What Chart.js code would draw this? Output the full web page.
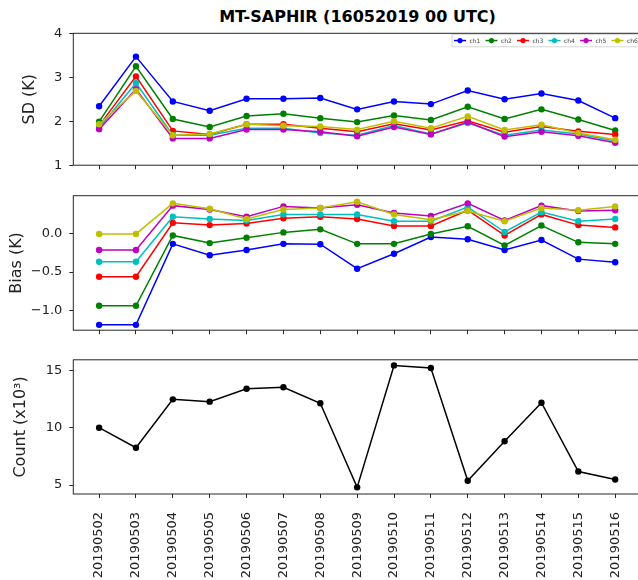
<!DOCTYPE html>
<html>
<head>
<meta charset="utf-8">
<script src="https://cdn.jsdelivr.net/npm/chart.js@4.4.1/dist/chart.umd.min.js"></script>
<style>
  html, body { margin: 0; padding: 0; background: #fff; }
  #wrap { position: relative; width: 638px; height: 580px; overflow: hidden; }
  canvas { position: absolute; left: 0; }
  #title { position: absolute; left: 73px; width: 569px; top: 7px; text-align: center;
           font: bold 16px 'DejaVu Sans'; line-height: 20px; color: #000; }
</style>
</head>
<body>
<div id="wrap">
  <div id="title">MT-SAPHIR (16052019 00 UTC)</div>
  <canvas id="sd" width="645" height="180" style="top:0"></canvas>
  <canvas id="bias" width="645" height="165" style="top:180px"></canvas>
  <canvas id="cnt" width="645" height="235" style="top:345px"></canvas>
</div>
<script>
// dates on the x axis
const dates = ['20190502', '20190503', '20190504', '20190505', '20190506', '20190507', '20190508',
  '20190509', '20190510', '20190511', '20190512', '20190513', '20190514', '20190515', '20190516'];
const channels = ['ch1', 'ch2', 'ch3', 'ch4', 'ch5', 'ch6'];
const colors = ['#0000ff', '#008000', '#ff0000', '#00bfbf', '#bf00bf', '#bfbf00'];

// standard deviation (K)
const sdCh1 = [2.34, 3.47, 2.45, 2.24, 2.51, 2.51, 2.53, 2.27, 2.45, 2.39, 2.70, 2.50, 2.63, 2.47, 2.07];
const sdCh2 = [1.99, 3.25, 2.05, 1.87, 2.12, 2.17, 2.07, 1.98, 2.13, 2.03, 2.33, 2.05, 2.27, 2.04, 1.79];
const sdCh3 = [1.90, 3.02, 1.78, 1.70, 1.93, 1.93, 1.84, 1.76, 1.94, 1.80, 2.01, 1.75, 1.88, 1.77, 1.70];
const sdCh4 = [1.85, 2.87, 1.68, 1.68, 1.84, 1.84, 1.73, 1.68, 1.90, 1.71, 1.96, 1.68, 1.80, 1.71, 1.55];
const sdCh5 = [1.82, 2.73, 1.61, 1.61, 1.81, 1.81, 1.76, 1.66, 1.87, 1.70, 1.98, 1.65, 1.76, 1.67, 1.51];
const sdCh6 = [1.93, 2.69, 1.68, 1.71, 1.93, 1.90, 1.88, 1.81, 2.00, 1.84, 2.11, 1.80, 1.92, 1.73, 1.58];

// bias (K)
const biasCh1 = [-1.19, -1.19, -0.13, -0.28, -0.21, -0.13, -0.135, -0.455, -0.26, -0.04, -0.07, -0.21, -0.08, -0.33, -0.37];
const biasCh2 = [-0.94, -0.94, -0.02, -0.12, -0.05, 0.02, 0.06, -0.13, -0.13, 0.00, 0.10, -0.15, 0.11, -0.11, -0.13];
const biasCh3 = [-0.56, -0.56, 0.145, 0.115, 0.135, 0.205, 0.225, 0.195, 0.105, 0.105, 0.31, -0.02, 0.255, 0.115, 0.085];
const biasCh4 = [-0.365, -0.365, 0.225, 0.195, 0.175, 0.255, 0.255, 0.255, 0.165, 0.165, 0.35, 0.025, 0.285, 0.165, 0.195];
const biasCh5 = [-0.21, -0.21, 0.37, 0.32, 0.225, 0.36, 0.34, 0.38, 0.275, 0.235, 0.40, 0.175, 0.37, 0.30, 0.31];
const biasCh6 = [0.00, 0.00, 0.40, 0.33, 0.195, 0.32, 0.34, 0.42, 0.255, 0.185, 0.30, 0.165, 0.34, 0.31, 0.36];

// observation count (x10^3)
const counts = [10.0, 8.25, 12.47, 12.27, 13.39, 13.53, 12.13, 4.80, 15.43, 15.2, 5.37, 8.82, 12.18, 6.18, 5.49];

const sdTicks = [1, 2, 3, 4];
const biasTicks = [-1.0, -0.5, 0.0];
const countTicks = [5, 10, 15];

const sdSeries = [sdCh1, sdCh2, sdCh3, sdCh4, sdCh5, sdCh6];
const biasSeries = [biasCh1, biasCh2, biasCh3, biasCh4, biasCh5, biasCh6];

const AXIS = '#262626';
const FONT = 'DejaVu Sans';
const xy = (vals) => vals.map((v, i) => ({ x: i, y: v }));

// matplotlib-like closed frame round the plot area
const frame = {
  id: 'frame',
  afterDraw(c) {
    const { ctx, chartArea: a } = c;
    ctx.save();
    ctx.strokeStyle = AXIS;
    ctx.lineWidth = 1;
    ctx.strokeRect(a.left, a.top, a.right - a.left, a.bottom - a.top);
    ctx.restore();
  },
};

// small legend in the top-right corner (clipped on the right, as in the original)
const miniLegend = {
  id: 'miniLegend',
  afterDatasetsDraw(c) {
    const { ctx, chartArea: a } = c;
    const x0 = a.right - 189, y0 = a.top + 1, h = 12.5;
    ctx.save();
    ctx.fillStyle = 'rgba(255,255,255,0.85)';
    ctx.strokeStyle = '#d6d6d6';
    ctx.lineWidth = 1;
    ctx.fillRect(x0, y0, 200, h);
    ctx.strokeRect(x0, y0, 200, h);
    ctx.font = `6px "${FONT}"`;
    ctx.textBaseline = 'middle';
    channels.forEach((name, i) => {
      const cx = x0 + 8 + i * 31.5, cy = y0 + h / 2;
      ctx.strokeStyle = colors[i];
      ctx.lineWidth = 1.5;
      ctx.beginPath(); ctx.moveTo(cx - 6, cy); ctx.lineTo(cx + 6, cy); ctx.stroke();
      ctx.fillStyle = colors[i];
      ctx.beginPath(); ctx.arc(cx, cy, 2.6, 0, Math.PI * 2); ctx.fill();
      ctx.fillStyle = '#444';
      ctx.fillText(name, cx + 9.5, cy + 0.5);
    });
    ctx.restore();
  },
};

function xScale(showLabels, height) {
  return {
    type: 'linear', min: -0.7, max: 14.7,
    afterBuildTicks: (s) => { s.ticks = dates.map((d, i) => ({ value: i })); },
    afterFit: (s) => { s.height = height; },
    grid: { drawOnChartArea: false, drawTicks: true, tickLength: 4, color: AXIS, lineWidth: 1 },
    border: { display: false },
    ticks: {
      display: showLabels, autoSkip: false, minRotation: 90, maxRotation: 90,
      padding: 14, color: '#222', font: { family: FONT, size: 13 },
      callback: (v) => dates[v],
    },
  };
}

function yScale(min, max, tickVals, fmt, title, titlePad) {
  return {
    min, max,
    afterBuildTicks: (s) => { s.ticks = tickVals.map((v) => ({ value: v })); },
    afterFit: (s) => { s.width = 73.3; },
    grid: { drawOnChartArea: false, drawTicks: true, tickLength: 4, color: AXIS, lineWidth: 1 },
    border: { display: false },
    ticks: { padding: 7, color: '#222', font: { family: FONT, size: 13 }, callback: fmt },
    title: { display: true, text: title, color: '#222', padding: { top: titlePad, bottom: 0 },
             font: { family: FONT, size: 16 } },
  };
}

function channelSets(series) {
  return series.map((vals, i) => ({
    label: channels[i],
    data: xy(vals),
    borderColor: colors[i], backgroundColor: colors[i],
    borderWidth: 1.5, pointRadius: 3.2, pointBorderWidth: 0,
    order: channels.length - i,   // ch6 drawn last, on top
  }));
}

const common = {
  responsive: false, animation: false, devicePixelRatio: 1,
  plugins: { legend: { display: false }, tooltip: { enabled: false } },
};

new Chart(document.getElementById('sd'), {
  type: 'line',
  data: { datasets: channelSets(sdSeries) },
  options: {
    ...common,
    layout: { padding: { top: 33.3, right: 3, left: 0, bottom: 0 } },
    scales: {
      x: xScale(false, 12.3),
      y: yScale(1, 4, sdTicks, (v) => String(v), 'SD (K)', 20.4),
    },
  },
  plugins: [miniLegend, frame],
});

new Chart(document.getElementById('bias'), {
  type: 'line',
  data: { datasets: channelSets(biasSeries) },
  options: {
    ...common,
    layout: { padding: { top: 15.7, right: 3, left: 0, bottom: 0 } },
    scales: {
      x: xScale(false, 14.3),
      y: yScale(-1.26, 0.50, biasTicks, (v) => v.toFixed(1).replace('-', '\u2212'), 'Bias (K)', 7.1),
    },
  },
  plugins: [frame],
});

new Chart(document.getElementById('cnt'), {
  type: 'line',
  data: {
    datasets: [{
      label: 'Count', data: xy(counts),
      borderColor: '#000', backgroundColor: '#000',
      borderWidth: 1.5, pointRadius: 3.2, pointBorderWidth: 0,
    }],
  },
  options: {
    ...common,
    layout: { padding: { top: 13.3, right: 3, left: 0, bottom: 0 } },
    scales: {
      x: xScale(true, 86),
      y: yScale(4.22, 15.92, countTicks, (v) => String(v), 'Count (x10\u00b3)', 11.4),
    },
  },
  plugins: [frame],
});
</script>
</body>
</html>
